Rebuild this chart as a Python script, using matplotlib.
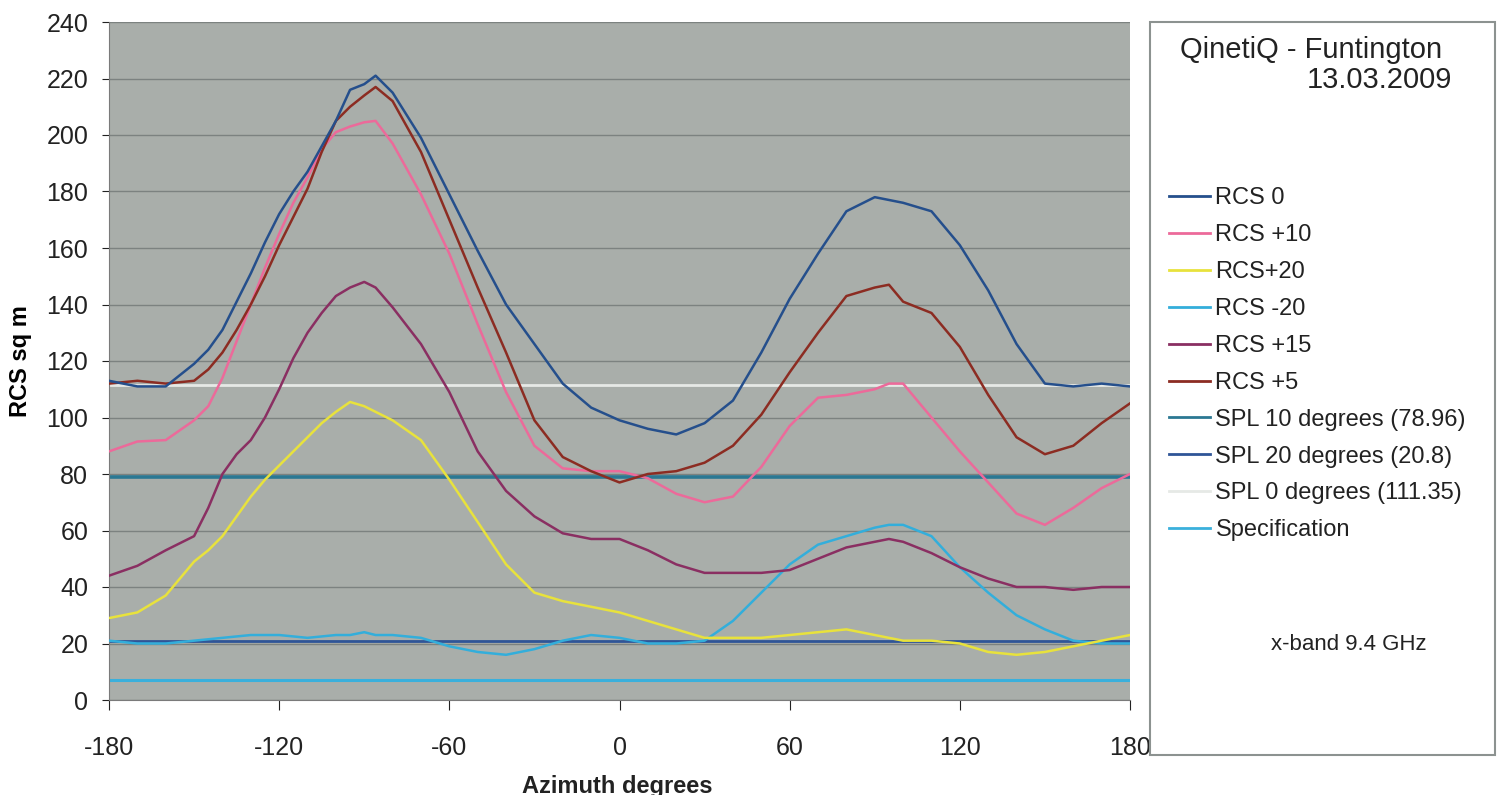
import matplotlib.pyplot as plt
import matplotlib
from matplotlib.lines import Line2D
from matplotlib.patches import Rectangle
import numpy as np
matplotlib.rcParams['axes.unicode_minus'] = False
matplotlib.rcParams['font.family'] = ['Liberation Sans', 'DejaVu Sans']

# azimuth samples (degrees)
az = [-180, -170, -160, -150, -145, -140, -135, -130, -125, -120, -115, -110, -105,
      -100, -95, -90, -86, -80, -70, -60, -50, -40, -30, -20, -10, 0, 10, 20, 30,
      40, 50, 60, 70, 80, 90, 95, 100, 110, 120, 130, 140, 150, 160, 170, 180]

rcs_0 = [113, 111, 111, 119, 124, 131, 141, 151, 162, 172, 180, 187, 196,
         205, 216, 218, 221, 215, 199, 179, 159, 140, 126, 112, 103.5, 99, 96, 94, 98,
         106, 123, 142, 158, 173, 178, 177, 176, 173, 161, 145, 126, 112, 111, 112, 111]
rcs_10 = [88, 91.5, 92, 99, 104, 114, 127, 140, 153, 165, 176, 185, 195,
          201, 203, 204.5, 205, 197, 179, 158, 133, 109, 90, 82, 81, 81, 78.5, 73, 70,
          72, 82.5, 97, 107, 108, 110, 112, 112, 100, 88, 77, 66, 62, 68, 75, 80]
rcs_20 = [29, 31, 37, 49, 53, 58, 65, 72, 78, 83, 88, 93, 98,
          102, 105.5, 104, 102, 99, 92, 78, 63, 48, 38, 35, 33, 31, 28, 25, 22,
          22, 22, 23, 24, 25, 23, 22, 21, 21, 20, 17, 16, 17, 19, 21, 23]
rcs_m20 = [21, 20, 20, 21, 21.5, 22, 22.5, 23, 23, 23, 22.5, 22, 22.5,
           23, 23, 24, 23, 23, 22, 19, 17, 16, 18, 21, 23, 22, 20, 20, 21,
           28, 38, 48, 55, 58, 61, 62, 62, 58, 47, 38, 30, 25, 21, 20, 20]
rcs_15 = [44, 47.5, 53, 58, 68, 80, 87, 92, 100, 110, 121, 130, 137,
          143, 146, 148, 146, 139, 126, 109, 88, 74, 65, 59, 57, 57, 53, 48, 45,
          45, 45, 46, 50, 54, 56, 57, 56, 52, 47, 43, 40, 40, 39, 40, 40]
rcs_5 = [112, 113, 112, 113, 117, 123, 131, 140, 150, 161, 171, 181, 194,
         205, 210, 214, 217, 212, 194, 170, 146, 123, 99, 86, 81, 77, 80, 81, 84,
         90, 101, 116, 130, 143, 146, 147, 141, 137, 125, 108, 93, 87, 90, 98, 105]

spl_10 = 78.96
spl_20 = 20.8
spl_0 = 111.35
spec = 7

fig = plt.figure(figsize=(15.02, 7.95), dpi=100)
ax = fig.add_axes([109/1502, 1 - 700/795, (1130-109)/1502, (700-22)/795])
ax.set_facecolor('#a9aeaa')

xr = [-180, 180]
ax.plot(xr, [spl_0, spl_0], color='#e6e9e6', lw=2, zorder=2)
ax.plot(xr, [spl_10, spl_10], color='#2b7893', lw=2.6, zorder=2)
ax.plot(xr, [spl_20, spl_20], color='#2f5597', lw=2, zorder=2)
ax.plot(xr, [spec, spec], color='#3ab0dc', lw=2.2, zorder=2)

ax.plot(az, rcs_m20, color='#33aedb', lw=1.8, zorder=3)
ax.plot(az, rcs_20, color='#e8e23c', lw=1.8, zorder=3)
ax.plot(az, rcs_15, color='#8a2f62', lw=1.8, zorder=3)
ax.plot(az, rcs_10, color='#ec6a9a', lw=1.8, zorder=3)
ax.plot(az, rcs_5, color='#8c2c22', lw=1.8, zorder=3)
ax.plot(az, rcs_0, color='#254f8c', lw=1.8, zorder=3)

ax.set_xlim(-180, 180)
ax.set_ylim(0, 240)
ax.set_xticks(range(-180, 181, 60))
ax.set_yticks(range(0, 241, 20))
ax.grid(axis='y', color='#7c8280', lw=1)
ax.set_axisbelow(True)
for s in ['top', 'right']:
    ax.spines[s].set_visible(False)
for s in ['left', 'bottom']:
    ax.spines[s].set_color('#7a7a7a')
ax.tick_params(axis='y', labelsize=18, colors='#222222', length=5, pad=10)
ax.tick_params(axis='x', labelsize=18, colors='#222222', length=7, pad=19)
ax.set_ylabel('RCS sq m', fontsize=17, fontweight='bold', labelpad=10)
fig.text(617/1502, 1 - 786/795, 'Azimuth degrees', fontsize=17, fontweight='bold',
         ha='center', va='center', color='#222222')

# legend panel
fig.patches.append(Rectangle((1150/1502, 1 - 755/795), 345/1502, 733/795,
                             transform=fig.transFigure, facecolor='white',
                             edgecolor='#8c9290', lw=1.5))
fig.text(1311/1502, 1 - 50/795, 'QinetiQ - Funtington', fontsize=21, va='center', ha='center',
         color='#222222')
fig.text(1452/1502, 1 - 80/795, '13.03.2009', fontsize=21, va='center', ha='right',
         color='#222222')
fig.text(1349/1502, 1 - 645/795, 'x-band 9.4 GHz', fontsize=16, va='center', ha='center',
         color='#222222')

names = ['RCS 0', 'RCS +10', 'RCS+20', 'RCS -20', 'RCS +15', 'RCS +5',
         'SPL 10 degrees (78.96)', 'SPL 20 degrees (20.8)', 'SPL 0 degrees (111.35)',
         'Specification']
cols = ['#254f8c', '#ec6a9a', '#e8e23c', '#33aedb', '#8a2f62', '#8c2c22',
        '#2b7893', '#2f5597', '#e6e9e6', '#3ab0dc']
handles = [Line2D([], [], color=c, lw=2) for c in cols]
leg = fig.legend(handles, names, loc='upper left', bbox_to_anchor=(1160/1502, 1 - 178/795),
                 frameon=False, fontsize=17, handlelength=1.7, handletextpad=0.25,
                 labelspacing=0.63, borderaxespad=0)
for t in leg.get_texts():
    t.set_color('#222222')

plt.savefig('out.png', dpi=100)
